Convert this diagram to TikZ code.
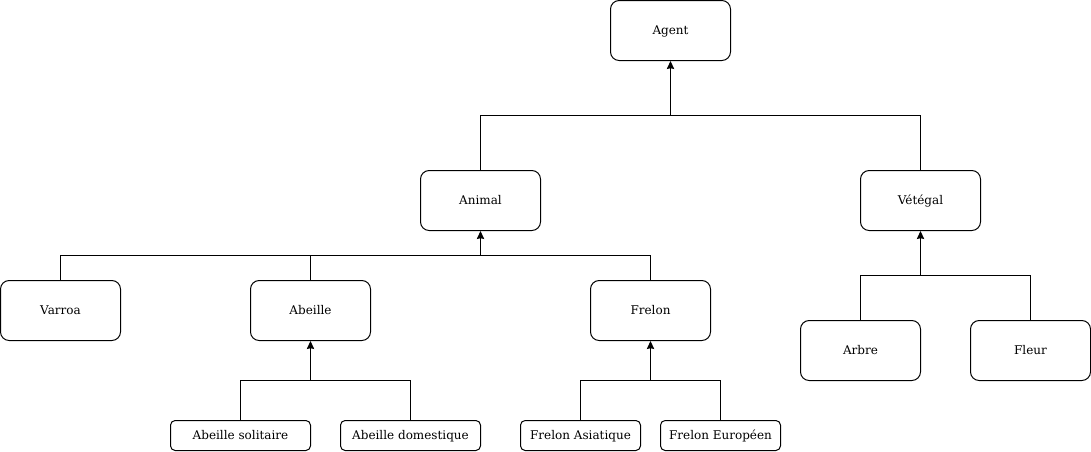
\documentclass[tikz,border=0pt]{standalone}
\usepackage{fontspec}
\setmainfont{DejaVu Serif}
\usetikzlibrary{arrows.meta}
\begin{document}
\begin{tikzpicture}[x=0.75pt,y=-0.75pt,
  big/.style={draw, line width=0.75pt, rounded corners=6.5pt, minimum width=90pt, minimum height=45pt, inner sep=0pt, text height=6.5pt, text depth=0pt, font=\fontsize{9}{11}\selectfont},
  small/.style={draw, line width=0.75pt, rounded corners=3.5pt, minimum height=22.5pt, inner sep=0pt, text height=6.5pt, text depth=0pt, font=\fontsize{9}{11}\selectfont},
  conn/.style={line width=0.75pt},
  arr/.style={line width=0.75pt, -{Stealth[length=6pt,width=5.5pt,inset=0.6pt]}}]
\useasboundingbox (0,0) rectangle (1091,451);
\node[big] (agent) at (670.5,30.5) {Agent};
\node[big] (animal) at (480.5,200.5) {Animal};
\node[big] (vegetal) at (920.5,200.5) {Vétégal};
\node[big] (varroa) at (60.5,310.5) {Varroa};
\node[big] (abeille) at (310.5,310.5) {Abeille};
\node[big] (frelon) at (650.5,310.5) {Frelon};
\node[big] (arbre) at (860.5,350.5) {Arbre};
\node[big] (fleur) at (1030.5,350.5) {Fleur};
\node[small, minimum width=105pt] (absol) at (240.5,435.5) {Abeille solitaire};
\node[small, minimum width=105pt] (abdom) at (410.5,435.5) {Abeille domestique};
\node[small, minimum width=90pt] (frasi) at (580.5,435.5) {Frelon Asiatique};
\node[small, minimum width=90pt] (freur) at (720.5,435.5) {Frelon Européen};
% Agent
\draw[arr] (animal.north) |- (670.5,115.5) -- (agent.south);
\draw[conn] (vegetal.north) |- (670.5,115.5);
% Animal
\draw[arr] (varroa.north) |- (480.5,255.5) -- (animal.south);
\draw[conn] (abeille.north) -- (abeille.north |- 0,255.5);
\draw[conn] (frelon.north) |- (480.5,255.5);
% Vegetal
\draw[arr] (arbre.north) |- (920.5,275.5) -- (vegetal.south);
\draw[conn] (fleur.north) |- (920.5,275.5);
% Abeille
\draw[arr] (absol.north) |- (310.5,380.5) -- (abeille.south);
\draw[conn] (abdom.north) |- (310.5,380.5);
% Frelon
\draw[arr] (frasi.north) |- (650.5,380.5) -- (frelon.south);
\draw[conn] (freur.north) |- (650.5,380.5);
\end{tikzpicture}
\end{document}
